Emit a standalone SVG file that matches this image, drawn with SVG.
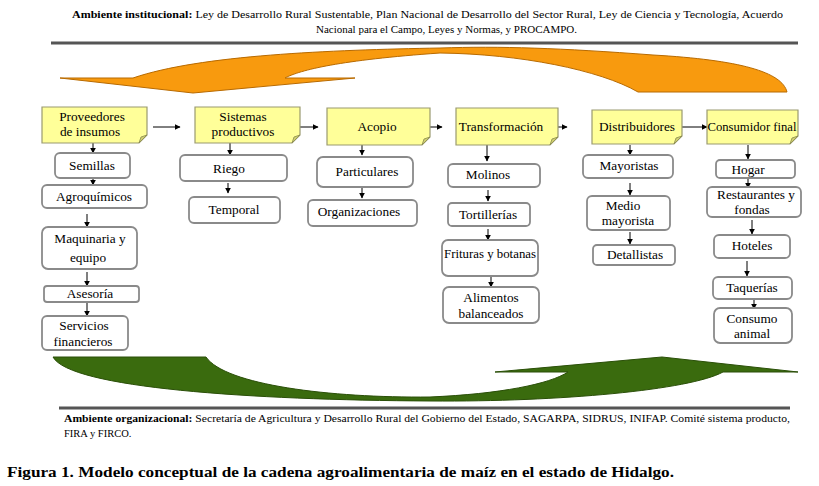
<svg xmlns="http://www.w3.org/2000/svg" width="819" height="486" viewBox="0 0 819 486" font-family="'Liberation Serif', 'DejaVu Serif', serif">
<defs>
<style>
text{font-family:'Liberation Serif','DejaVu Serif',serif;fill:#000}
.amb{font-size:10.5px}
.b{font-weight:bold}
.cap{font-size:15.5px;font-weight:bold}
.hd{fill:#FFFF99;stroke:#9a9a70;stroke-width:1.2}
.fold{fill:#cfcf70;stroke:#8a8a50;stroke-width:0.8}
.sb{fill:#fff;stroke:#8a8a8a;stroke-width:1.8}
.t{font-size:13.3px;text-anchor:middle}
.rule{stroke:#555;stroke-width:3}
.c{stroke:#000;stroke-width:1;fill:none;marker-end:url(#ah)}
</style>
<marker id="ah" viewBox="0 0 10 10" refX="9" refY="5" markerWidth="6" markerHeight="6" orient="auto" markerUnits="userSpaceOnUse">
<path d="M0,0 L10,5 L0,10 Z" fill="#000"/>
</marker>
</defs>
<rect width="819" height="486" fill="#fff"/>

<text class="amb" x="72" y="18" textLength="711" lengthAdjust="spacingAndGlyphs"><tspan class="b">Ambiente institucional:</tspan> Ley de Desarrollo Rural Sustentable, Plan Nacional de Desarrollo del Sector Rural, Ley de Ciencia y Tecnología, Acuerdo</text>
<text class="amb" x="316" y="33" textLength="261" lengthAdjust="spacingAndGlyphs">Nacional para el Campo, Leyes y Normas, y PROCAMPO.</text>
<line class="rule" x1="51" y1="43" x2="798" y2="43"/>

<path d="M787,92 C782,72 740,60 653,55 C560,48 500,46 440,48 C330,50 200,55 133,78 L60,78 L193,93 L355,78 L285,78 C300,70 340,60 440,53 C520,54 600,70 638,92 Z" fill="#F89A0E" stroke="#B86A00" stroke-width="1"/>

<path d="M53,357 L206,357 C225,385 330,398 430,397 C500,394 550,384 568,372 L495,372 L662,357 L798,372 L723,372 C690,390 560,402 430,401 C250,400 70,388 53,357 Z" fill="#3A6B0E" stroke="#2A4F08" stroke-width="1"/>

<line class="rule" x1="59" y1="408" x2="790" y2="408"/>
<text class="amb" x="64" y="422" textLength="726" lengthAdjust="spacingAndGlyphs"><tspan class="b">Ambiente organizacional:</tspan> Secretaría de Agricultura y Desarrollo Rural del Gobierno del Estado, SAGARPA, SIDRUS, INIFAP. Comité sistema producto,</text>
<text class="amb" x="64" y="437">FIRA y FIRCO.</text>
<text class="cap" x="7" y="477" textLength="667" lengthAdjust="spacingAndGlyphs">Figura 1. Modelo conceptual de la cadena agroalimentaria de maíz en el estado de Hidalgo.</text>

<g id="connectors">
<line class="c" x1="153" y1="127" x2="180" y2="127"/>
<line class="c" x1="290" y1="127" x2="318" y2="127"/>
<line class="c" x1="418" y1="127" x2="442" y2="127"/>
<line class="c" x1="547" y1="127" x2="567" y2="127"/>
<line class="c" x1="682" y1="127" x2="707" y2="127"/>
<line class="c" x1="93" y1="143" x2="93" y2="153"/>
<line class="c" x1="93" y1="178" x2="93" y2="185"/>
<line class="c" x1="87" y1="214" x2="87" y2="227"/>
<line class="c" x1="87" y1="272" x2="87" y2="286"/>
<line class="c" x1="87" y1="302" x2="87" y2="316"/>
<line class="c" x1="230" y1="143" x2="230" y2="155"/>
<line class="c" x1="228" y1="183" x2="228" y2="193"/>
<line class="c" x1="362" y1="145" x2="362" y2="155"/>
<line class="c" x1="362" y1="188" x2="362" y2="198"/>
<line class="c" x1="487" y1="145" x2="487" y2="161"/>
<line class="c" x1="488" y1="190" x2="488" y2="201"/>
<line class="c" x1="488" y1="229" x2="488" y2="240"/>
<line class="c" x1="491" y1="277" x2="491" y2="287"/>
<line class="c" x1="630" y1="145" x2="630" y2="155"/>
<line class="c" x1="630" y1="183" x2="630" y2="195"/>
<line class="c" x1="630" y1="232" x2="630" y2="244"/>
<line class="c" x1="748" y1="145" x2="748" y2="159"/>
<line class="c" x1="748" y1="176" x2="748" y2="188"/>
<line class="c" x1="752" y1="220" x2="752" y2="234"/>
<line class="c" x1="747" y1="261" x2="747" y2="276"/>
<line class="c" x1="754" y1="299" x2="754" y2="309"/>
</g>

<g id="proveedores">
<path class="hd" d="M42,107 H147 V135 L139,143 H42 Z"/>
<path class="fold" d="M147,135 L139,143 L141,137 Z"/>
<text class="t" x="92" y="121">Proveedores</text>
<text class="t" x="90" y="136">de insumos</text>
</g>
<g id="sistemas">
<path class="hd" d="M195,107 H300 V135 L292,143 H195 Z"/>
<path class="fold" d="M300,135 L292,143 L294,137 Z"/>
<text class="t" x="243" y="121">Sistemas</text>
<text class="t" x="243" y="136">productivos</text>
</g>
<g id="acopio">
<path class="hd" d="M327,108 H430 V137 L422,145 H327 Z"/>
<path class="fold" d="M430,137 L422,145 L424,139 Z"/>
<text class="t" x="377" y="131">Acopio</text>
</g>
<g id="transformacion">
<path class="hd" d="M456,108 H558 V137 L550,145 H456 Z"/>
<path class="fold" d="M558,137 L550,145 L552,139 Z"/>
<text class="t" x="501" y="131">Transformación</text>
</g>
<g id="distribuidores">
<path class="hd" d="M592,110 H682 V136 L674,144 H592 Z"/>
<path class="fold" d="M682,136 L674,144 L676,138 Z"/>
<text class="t" x="637" y="131">Distribuidores</text>
</g>
<g id="consumidor">
<path class="hd" d="M707,110 H798 V136 L790,144 H707 Z"/>
<path class="fold" d="M798,136 L790,144 L792,138 Z"/>
<text class="t" x="752" y="131" textLength="89" lengthAdjust="spacingAndGlyphs">Consumidor final</text>
</g>

<g id="semillas"><rect class="sb" x="55" y="153" width="75" height="25" rx="5"/><text class="t" x="92" y="170">Semillas</text></g>
<g id="agroquimicos"><rect class="sb" x="42" y="185" width="105" height="23" rx="5"/><text class="t" x="94" y="201">Agroquímicos</text></g>
<g id="maquinaria"><rect class="sb" x="42" y="227" width="95" height="42" rx="6"/><text class="t" x="90" y="243">Maquinaria y</text><text class="t" x="88" y="262">equipo</text></g>
<g id="asesoria"><rect class="sb" x="44" y="286" width="95" height="16" rx="3"/><text class="t" x="90" y="298">Asesoría</text></g>
<g id="servicios"><rect class="sb" x="42" y="316" width="86" height="34" rx="5"/><text class="t" x="84" y="330">Servicios</text><text class="t" x="83" y="346">financieros</text></g>

<g id="riego"><rect class="sb" x="180" y="155" width="107" height="26" rx="5"/><text class="t" x="229" y="173">Riego</text></g>
<g id="temporal"><rect class="sb" x="189" y="197" width="91" height="26" rx="5"/><text class="t" x="234" y="214">Temporal</text></g>

<g id="particulares"><rect class="sb" x="317" y="157" width="96" height="30" rx="6"/><text class="t" x="367" y="176">Particulares</text></g>
<g id="organizaciones"><rect class="sb" x="308" y="200" width="109" height="26" rx="5"/><text class="t" x="359" y="216">Organizaciones</text></g>

<g id="molinos"><rect class="sb" x="448" y="164" width="92" height="23" rx="5"/><text class="t" x="488" y="179">Molinos</text></g>
<g id="tortillerias"><rect class="sb" x="448" y="203" width="82" height="23" rx="4"/><text class="t" x="488" y="219">Tortillerías</text></g>
<g id="frituras"><rect class="sb" x="442" y="240" width="96" height="36" rx="6"/><text class="t" x="490" y="258" textLength="92" lengthAdjust="spacingAndGlyphs">Frituras y botanas</text></g>
<g id="alimentos"><rect class="sb" x="443" y="287" width="96" height="36" rx="6"/><text class="t" x="491" y="302">Alimentos</text><text class="t" x="491" y="318">balanceados</text></g>

<g id="mayoristas"><rect class="sb" x="583" y="155" width="90" height="23" rx="5"/><text class="t" x="629" y="170">Mayoristas</text></g>
<g id="medio"><rect class="sb" x="587" y="196" width="83" height="34" rx="5"/><text class="t" x="623" y="210">Medio</text><text class="t" x="628" y="225">mayorista</text></g>
<g id="detallistas"><rect class="sb" x="593" y="245" width="82" height="20" rx="4"/><text class="t" x="635" y="259">Detallistas</text></g>

<g id="hogar"><rect class="sb" x="716" y="160" width="79" height="18" rx="4"/><text class="t" x="748" y="174">Hogar</text></g>
<g id="restaurantes"><rect class="sb" x="707" y="187" width="94" height="30" rx="5"/><text class="t" x="756" y="199">Restaurantes y</text><text class="t" x="752" y="214">fondas</text></g>
<g id="hoteles"><rect class="sb" x="714" y="235" width="76" height="23" rx="5"/><text class="t" x="752" y="250">Hoteles</text></g>
<g id="taquerias"><rect class="sb" x="713" y="277" width="79" height="22" rx="5"/><text class="t" x="752" y="292">Taquerías</text></g>
<g id="consumo"><rect class="sb" x="714" y="308" width="78" height="35" rx="6"/><text class="t" x="752" y="323">Consumo</text><text class="t" x="752" y="338">animal</text></g>
</svg>
